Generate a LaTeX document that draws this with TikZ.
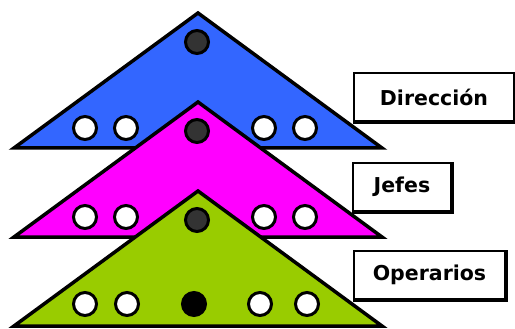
\documentclass[tikz,border=0pt]{standalone}
\usepackage{fontspec}
\setmainfont{DejaVu Sans}
\usetikzlibrary{positioning}
\definecolor{nivelazul}{RGB}{51, 102, 255}
\definecolor{nivelmagenta}{RGB}{255, 0, 255}
\definecolor{nivelverde}{RGB}{153, 204, 0}
\definecolor{grisjefe}{RGB}{51, 51, 51}

\begin{document}
\begin{tikzpicture}[x=1pt, y=-1pt, line join=miter,
    nivel/.style={draw=black, line width=3.5pt},
    persona/.style={draw=black, line width=3pt, fill=white},
    jefe/.style={draw=black, line width=3pt, fill=grisjefe},
    cartel/.style={draw=black, line width=2pt, fill=white, minimum height=48pt,
                   inner sep=0pt, anchor=north west,
                   font=\fontsize{20.5}{24}\selectfont\bfseries}]

    \useasboundingbox (0,0) rectangle (515,329);

    \def\H{135}  % altura de cada triangulo
    \def\R{11.5} % radio de los circulos

    % ==========================================================
    % los tres niveles, uno encima del otro
    % ==========================================================
    \foreach \y/\col in {13/nivelazul, 102/nivelmagenta, 191/nivelverde} {
        \draw[nivel, fill=\col] (14,\y+\H) -- (198,\y) -- (382,\y+\H) -- cycle;
        \fill[jefe] (197,\y+29) circle (\R);
    }

    % personas en la base de cada nivel
    \foreach \y in {128, 217} {
        \foreach \x in {85, 126, 264, 305}
            \draw[persona] (\x,\y) circle (\R);
    }
    \foreach \x in {85, 127, 260, 307}
        \draw[persona] (\x,304) circle (\R);
    \fill[jefe, fill=black] (194,304) circle (\R);

    % ==========================================================
    % carteles con sombra
    % ==========================================================
    \node[cartel, minimum width=160pt] (dir) at (353,72) {Dirección};
    \node[cartel, minimum width=98pt]  (jef) at (352,162) {Jefes};
    \node[cartel, minimum width=151pt] (ope) at (353,250) {Operarios};

    \foreach \n in {dir, jef, ope}
        \draw[line width=4pt] (\n.north east) -- (\n.south east) -- (\n.south west);

\end{tikzpicture}
\end{document}
